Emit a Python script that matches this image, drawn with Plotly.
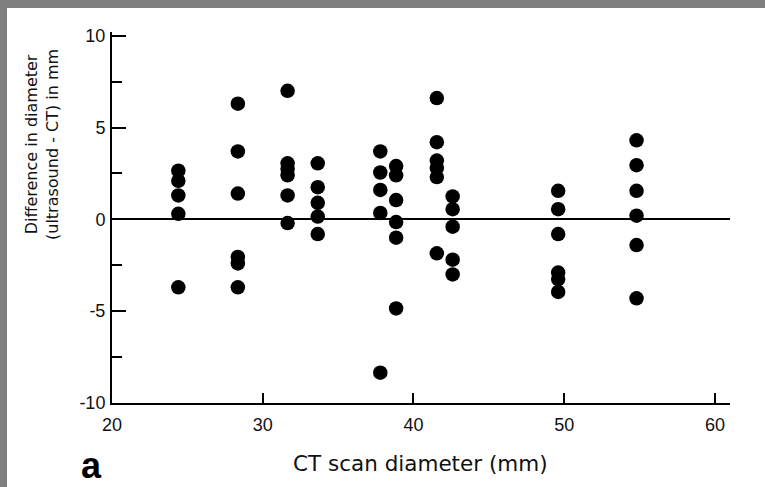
import plotly.graph_objects as go

# ---- data ----
column_ct_mm = [24.4, 28.35, 31.65, 33.65, 37.8, 38.85, 41.55, 42.6, 49.6, 54.8]
column_diffs_mm = [
    [2.65, 2.1, 1.3, 0.3, -3.7],
    [6.3, 3.7, 1.4, -2.05, -2.4, -3.7],
    [7.0, 3.05, 2.75, 2.4, 1.3, -0.2],
    [3.05, 1.75, 0.9, 0.15, -0.8],
    [3.7, 2.55, 1.6, 0.35, -8.35],
    [2.9, 2.4, 1.05, -0.15, -1.0, -4.85],
    [6.6, 4.2, 3.2, 2.8, 2.3, -1.85],
    [1.25, 0.55, -0.4, -2.2, -3.0],
    [1.55, 0.55, -0.8, -2.9, -3.25, -3.95],
    [4.3, 2.95, 1.55, 0.2, -1.4, -4.3],
]
x_ticks = [20, 30, 40, 50, 60]
y_ticks = [-10, -5, 0, 5, 10]
x_title = "CT scan diameter (mm)"
y_title = "Difference in diameter<br>(ultrasound - CT) in mm"
panel_label = "a"

xs, ys = [], []
for cx, diffs in zip(column_ct_mm, column_diffs_mm):
    for d in diffs:
        xs.append(cx)
        ys.append(d)

W, H = 765, 487
L, R, T, B = 112, 35, 32, 84
PW, PH = W - L - R, H - T - B


def px(x):
    return (x - L) / PW


def py(y):
    return (H - B - y) / PH


fig = go.Figure()
fig.add_trace(go.Scatter(
    x=xs, y=ys, mode="markers",
    marker=dict(size=14.5, color="black", line=dict(width=0)),
    showlegend=False, hoverinfo="x+y",
))

tickfont = dict(family="Liberation Sans, Arial, sans-serif", size=18, color="#111")

fig.update_layout(
    width=W, height=H,
    margin=dict(l=L, r=R, t=T, b=B),
    paper_bgcolor="white", plot_bgcolor="white",
    xaxis=dict(
        range=[20, 61], tickvals=x_ticks, ticktext=[str(v) for v in x_ticks],
        showgrid=False, zeroline=False, showline=True, linecolor="black", linewidth=2,
        ticks="inside", ticklen=10, tickwidth=2, tickcolor="black",
        tickfont=tickfont, ticklabelstandoff=4,
    ),
    yaxis=dict(
        range=[-10, 10.2], tickvals=y_ticks, ticktext=[str(v) for v in y_ticks],
        showgrid=False, zeroline=True, zerolinecolor="black", zerolinewidth=2,
        showline=True, linecolor="black", linewidth=2,
        ticks="inside", ticklen=14, tickwidth=2, tickcolor="black",
        minor=dict(ticks="inside", ticklen=10, tickwidth=2, tickcolor="black", dtick=2.5, tick0=0),
        tickfont=tickfont, ticklabelstandoff=1,
    ),
    shapes=[
        dict(type="rect", xref="paper", yref="paper", x0=px(0), x1=px(7), y0=py(H), y1=py(0),
             fillcolor="#7f7f7f", line=dict(width=0), layer="above"),
        dict(type="rect", xref="paper", yref="paper", x0=px(0), x1=px(W), y0=py(8), y1=py(0),
             fillcolor="#7f7f7f", line=dict(width=0), layer="above"),
    ],
    annotations=[
        dict(text=x_title, xref="paper", yref="paper", x=px(420), y=py(463),
             xanchor="center", yanchor="middle", showarrow=False,
             font=dict(family="DejaVu Sans, sans-serif", size=21.5, color="#111")),
        dict(text=y_title, xref="paper", yref="paper", x=px(42), y=py(145),
             xanchor="center", yanchor="middle", showarrow=False, textangle=-90,
             font=dict(family="DejaVu Sans, sans-serif", size=16, color="#111")),
        dict(text="<b>" + panel_label + "</b>", xref="paper", yref="paper", x=px(91), y=py(465),
             xanchor="center", yanchor="middle", showarrow=False,
             font=dict(family="Liberation Sans, Arial, sans-serif", size=36, color="black")),
    ],
)

fig.write_html("out.html")
